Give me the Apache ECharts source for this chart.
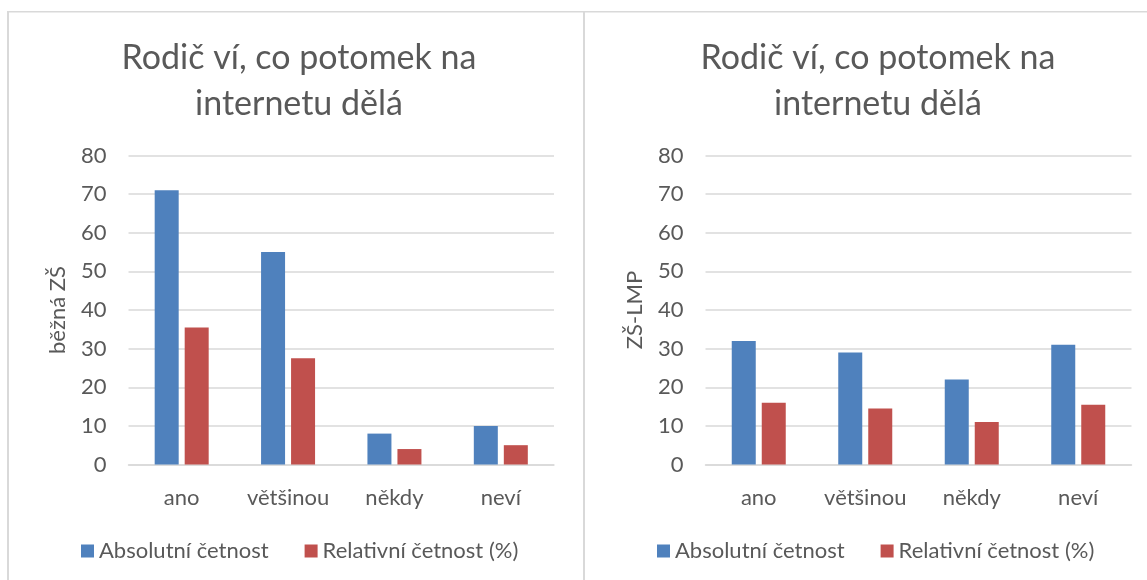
<!DOCTYPE html>
<html>
<head>
<meta charset="utf-8">
<script src="https://cdn.jsdelivr.net/npm/echarts@6/dist/echarts.min.js"></script>
<style>
html,body{margin:0;padding:0;background:#fff;}
#c{width:1147px;height:580px;}
</style>
</head>
<body>
<div id="c"></div>
<script>
const categories = ['ano', 'většinou', 'někdy', 'neví'];
const seriesNames = ['Absolutní četnost', 'Relativní četnost (%)'];
const beznaAbs = [71, 55, 8, 10];
const beznaRel = [35.5, 27.5, 4, 5];
const lmpAbs = [32, 29, 22, 31];
const lmpRel = [16, 14.5, 11, 15.5];
const yTicks = { min: 0, max: 80, interval: 10 };
const chartTitle = 'Rodič ví, co potomek na\ninternetu dělá';
const yNames = ['běžná ZŠ', 'ZŠ-LMP'];

const FONT = 'Lato';
const TXT = '#595959';
const GRIDC = '#d9d9d9';
const COLORS = ['#4f81bd', '#c0504d'];

const chart = echarts.init(document.getElementById('c'), null, { renderer: 'canvas' });

function yAxis(i) {
  return {
    type: 'value', gridIndex: i, min: yTicks.min, max: yTicks.max, interval: yTicks.interval,
    name: yNames[i], nameLocation: 'middle', nameGap: 60, nameRotate: 90,
    nameTextStyle: { fontFamily: FONT, fontSize: 22, color: TXT },
    axisLine: { show: false }, axisTick: { show: false },
    axisLabel: { fontFamily: FONT, fontSize: 22, color: TXT, margin: 22 },
    splitLine: { lineStyle: { color: GRIDC, width: 1.5 } }
  };
}
function xAxis(i) {
  return {
    type: 'category', gridIndex: i, data: categories,
    axisLine: { lineStyle: { color: GRIDC, width: 1.5 } },
    axisTick: { show: false },
    axisLabel: { fontFamily: FONT, fontSize: 22, color: TXT, margin: 22, interval: 0 }
  };
}
function bar(name, data, i, color) {
  return {
    type: 'bar', name: name, data: data, xAxisIndex: i, yAxisIndex: i,
    barWidth: 24, barGap: '25%', itemStyle: { color: color }
  };
}

const option = {
  animation: false,
  color: COLORS,
  title: [
    { text: chartTitle, left: 294, top: 30, textAlign: 'center',
      textStyle: { fontFamily: FONT, fontSize: 34, fontWeight: 'normal', color: TXT, lineHeight: 46 } },
    { text: chartTitle, left: 873, top: 30, textAlign: 'center',
      textStyle: { fontFamily: FONT, fontSize: 34, fontWeight: 'normal', color: TXT, lineHeight: 46 } }
  ],
  legend: [
    { left: 76, top: 535, data: seriesNames, icon: 'rect', itemWidth: 13, itemHeight: 13, itemGap: 36,
      textStyle: { fontFamily: FONT, fontSize: 22, color: TXT }, selectedMode: false },
    { left: 652, top: 535, data: seriesNames, icon: 'rect', itemWidth: 13, itemHeight: 13, itemGap: 36,
      textStyle: { fontFamily: FONT, fontSize: 22, color: TXT }, selectedMode: false }
  ],
  grid: [
    { left: 128.5, top: 155.5, width: 425.5, height: 309 },
    { left: 705.5, top: 155.5, width: 426, height: 309 }
  ],
  xAxis: [xAxis(0), xAxis(1)],
  yAxis: [yAxis(0), yAxis(1)],
  series: [
    bar(seriesNames[0], beznaAbs, 0, COLORS[0]),
    bar(seriesNames[1], beznaRel, 0, COLORS[1]),
    bar(seriesNames[0], lmpAbs, 1, COLORS[0]),
    bar(seriesNames[1], lmpRel, 1, COLORS[1])
  ],
  graphic: [
    { type: 'line', shape: { x1: 7, y1: 11.75, x2: 1147, y2: 11.75 }, style: { stroke: GRIDC, lineWidth: 1.5 } },
    { type: 'line', shape: { x1: 8, y1: 11, x2: 8, y2: 580 }, style: { stroke: GRIDC, lineWidth: 2 } },
    { type: 'line', shape: { x1: 584, y1: 11, x2: 584, y2: 580 }, style: { stroke: GRIDC, lineWidth: 2 } }
  ]
};
chart.setOption(option);
</script>
</body>
</html>
